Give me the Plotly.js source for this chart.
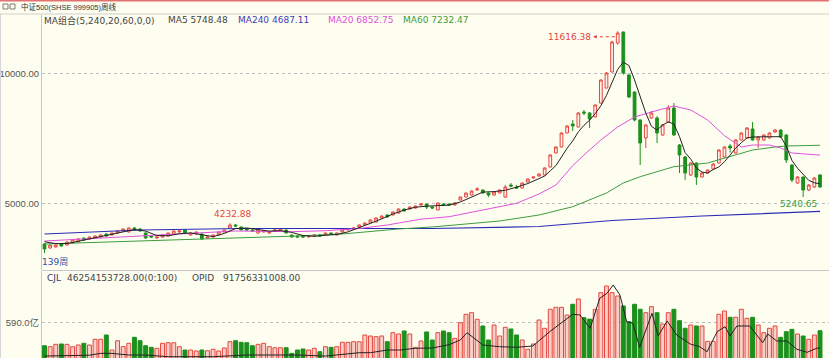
<!DOCTYPE html>
<html><head><meta charset="utf-8">
<script src="https://cdn.plot.ly/plotly-3.0.1.min.js"></script>
<style>html,body{margin:0;padding:0;background:#FEFEF0;}#chart{width:829px;height:358px;}</style>
</head><body><div id="chart"></div>
<script>
// ---- data ----
const weekOpen = [3435,3281,3320,3435,3396,3473,3512,3665,3627,3665,3704,3819,3781,3858,3935,3896,4050,4012,3858,3742,
3665,3704,3742,3819,3896,3973,3781,3819,3819,3665,3704,3781,3896,4050,4165,4089,4012,3973,3858,3896,
3858,3935,3973,3973,3781,3742,3742,3704,3742,3781,3781,3858,3781,3896,3973,4012,4089,4165,4242,4281,
4435,4550,4550,4627,4781,4781,4819,4935,4973,4858,4742,4973,4973,4935,5127,5242,5319,5512,5512,5396,
5319,5396,5242,5704,5627,5588,5819,5973,6050,6088,6396,6935,7165,7704,8050,7935,8511,8473,8319,8857,
9435,10050,11165,11588,9935,9281,8204,7512,8281,8281,7627,8127,8665,7242,6781,6088,6550,6011,6165,6319,
6550,6781,7204,6935,7435,7512,7858,7435,7435,7512,7742,7819,7627,6473,5781,6011,5512,5627,6088];
const weekHigh = [3473,3420,3420,3450,3530,3600,3650,3680,3720,3760,3800,3830,3870,3950,4030,4070,4090,4040,3880,3760,
3720,3800,3870,3950,3960,3990,3870,3910,3840,3720,3800,3910,3990,4232.88,4200,4100,4030,3990,3990,3950,
3910,3990,4030,3990,3800,3760,3760,3760,3800,3800,3870,3870,3870,3990,4030,4080,4180,4260,4380,4450,
4530,4570,4680,4800,4800,4880,4910,5010,4990,4880,5030,5000,4990,5030,5260,5410,5490,5620,5530,5410,
5450,5530,5700,5780,5700,5800,5950,6030,6150,6380,6880,7190,7730,8000,8204,8500,8588,8511,8800,9760,
10050,11250,11616.38,11600,10000,9300,8230,8040,8550,8350,8050,8781,8857,7280,6820,6580,6580,6190,6300,6540,
7080,7190,7280,7460,7730,7930,8127,7580,7650,7730,7850,7850,7650,6500,6050,6030,5740,6000,6120];
const weekLow = [3088,3260,3300,3340,3380,3460,3500,3570,3610,3650,3690,3720,3770,3840,3920,3880,3960,3920,3640,3680,
3640,3690,3730,3800,3880,3840,3770,3800,3600,3640,3690,3770,3880,4030,4100,3960,3950,3920,3840,3880,
3840,3920,3960,3840,3690,3680,3690,3690,3730,3730,3770,3800,3770,3880,3960,4000,4070,4150,4230,4270,
4420,4460,4540,4610,4690,4770,4800,4920,4780,4790,4730,4910,4920,4920,5110,5230,5300,5490,5380,5240,
5300,5380,5200,5620,5560,5570,5800,5950,6030,6070,6380,6920,7150,7690,7780,7920,8390,7896,8300,8840,
9420,10030,11100,9950,9050,8150,6473,7127,8250,7320,7600,8100,7600,6165,5896,6050,5704,5990,6140,6300,
6530,6760,6950,6910,7410,7490,7410,7127,7400,7490,7720,7530,6550,5819,5750,5240.65,5480,5600,5600];
const weekClose = [3242,3396,3396,3358,3512,3588,3627,3588,3704,3742,3781,3742,3858,3935,4012,4050,3973,3935,3665,3704,
3704,3781,3858,3935,3935,3858,3858,3896,3627,3704,3781,3896,3973,4165,4127,3973,3973,3935,3973,3935,
3896,3973,4012,3858,3704,3704,3704,3742,3781,3742,3858,3819,3858,3973,4012,4050,4165,4242,4358,4435,
4512,4473,4665,4781,4704,4858,4896,4973,4858,4819,5012,4935,4935,5012,5242,5396,5473,5550,5396,5319,
5435,5512,5627,5665,5588,5781,5935,6011,6127,6358,6858,7165,7704,7973,7973,8473,8473,8243,8781,9742,
10011,11204,11550,10011,9088,8204,7319,8011,8473,7704,8011,8665,7627,6858,6165,6550,6011,6165,6281,6511,
7050,7165,7127,7435,7704,7896,7435,7550,7627,7704,7819,7550,6665,5896,6011,5512,5704,5973,5627];
// weekly turnover, 亿
const weekVolume = [234,219,255,260,255,219,245,271,245,332,332,397,169,310,220,271,362,310,234,210,
195,271,280,280,219,169,169,154,169,158,180,154,200,295,310,286,280,234,255,271,
219,203,203,203,118,169,184,169,195,143,219,210,219,286,286,295,295,397,382,371,
382,295,432,412,458,412,210,306,443,321,432,458,432,347,584,712,736,636,534,321,
549,382,514,488,397,321,180,260,625,499,788,818,818,701,864,944,660,639,788,1040,
1142,1040,990,838,599,864,788,736,827,736,564,736,788,614,500,549,534,534,300,300,
712,762,666,666,788,651,666,549,432,499,534,362,447,483,412,382,332,397,462.54];
// moving-average lines, read at sample weeks
const ma5Week = [0,2,4,6,8,10,12,14,16,18,20,22,24,26,28,30,32,34,36,38,40,42,44,46,48,50,52,54,56,58,60,62,64,66,68,70,72,74,76,78,80,82,84,86,88,89,90,91,92,93,94,95,96,97,98,99,100,101,102,103,104,105,106,107,108,109,110,111,112,113,114,115,116,117,118,119,120,121,122,123,124,125,126,127,128,129,130,131,132,133,134,135,136,137,138];
const ma5Value = [3520,3450,3450,3540,3620,3700,3790,3900,3990,3930,3760,3750,3830,3860,3780,3720,3840,4030,4050,3990,3930,3950,3880,3760,3730,3770,3800,3900,4050,4230,4400,4590,4740,4850,4890,4900,4930,5050,5250,5430,5450,5500,5620,5760,5950,6050,6250,6450,6780,7120,7400,7750,8000,8200,8450,8750,9150,9650,10150,10430,10300,9742,9100,8473,7960,7819,8011,8130,8050,7561,6950,6700,6358,6200,6165,6300,6400,6600,6850,7127,7330,7512,7550,7561,7561,7561,7561,7561,7200,6650,6350,6100,5880,5790,5748.48];
const ma20Week = [0,8,16,24,34,44,50,56,61,67,72,78,84,88,91,93,94,96,99,102,105,108,111,112,115,118,121,124,126,129,131,133,138];
const ma20Value = [3550,3640,3715,3830,3935,3908,3946,4030,4165,4390,4485,4742,5000,5358,5704,6200,6450,6858,7435,7935,8319,8511,8704,8740,8588,8204,7600,7165,7242,7242,7127,6935,6852.75];
const ma60Week = [0,34,45,53,63,69,81,88,94,100,103,106,112,118,121,126,130,132,138];
const ma60Value = [3435,3650,3742,3819,4012,4089,4319,4550,4869,5396,5781,6023,6408,6550,6742,7050,7165,7204,7232.47];
const ma240Week = [0,17,35,69,88,101,117,138];
const ma240Value = [3820,3973,4030,4030,4108,4338,4512,4687.11];
const volLineWeek = [0,8,10,12,15,18,22,30,36,45,50,56,58,61,63.3,66,69,72,74,75.2,78,81,84,86.9,89.9,92.3,94,95.3,97.1,98.8,100.1,101.2,102.4,103.6,104.7,105.9,108.1,109.2,110.8,112.5,114.9,116.6,117.9,119.7,121.1,122,123.2,125.5,127.8,128.7,130.3,132.1,133.9,135.7,137.4,138];
const volLineValue = [77,90,118,118,93,93,67,67,93,93,77,128,128,169,169,195,199,250,321,432,245,219,210,230,447,610,712,701,499,955,1031,1157,1005,599,575,210,727,382,610,397,260,219,143,447,523,382,534,534,280,412,306,306,180,134,195,200];
const priceTicks = [5000, 10000];
const priceTickText = ['5000.00', '10000.00'];
const volTicks = [590];
const volTickText = ['590.0亿'];
const weeks = weekClose.map((_, i) => i);

// ---- styles ----
const RED = '#E5463E', RED_FILL = '#FFF2EE', RED_VOL_FILL = '#F9CFC7';
const GREEN = '#1C901C';
const FONT = 'DejaVu Sans, Noto Sans CJK SC, sans-serif';
const TICKFONT = 'Liberation Sans, Arial, Noto Sans CJK SC, sans-serif';
const W = 829, H = 358, ML = 42, MT = 14;
const PW = W - ML, PH = H - MT;
const px = x => (x - ML) / PW;         // pixel x -> paper
const py = y => (H - y) / PH;          // pixel y -> paper

const up = weekClose.map((c, i) => c >= weekOpen[i]);
const volFill = up.map(u => u ? RED_VOL_FILL : GREEN);
const volLine = up.map(u => u ? RED : GREEN);

const traces = [
  {type:'candlestick', x:weeks, open:weekOpen, high:weekHigh, low:weekLow, close:weekClose,
   xaxis:'x', yaxis:'y', whiskerwidth:0, hoverinfo:'none',
   increasing:{line:{color:RED,width:1}, fillcolor:RED_FILL},
   decreasing:{line:{color:GREEN,width:1}, fillcolor:GREEN}},
  {type:'scatter', mode:'lines', x:ma240Week, y:ma240Value, line:{color:'#2B2BB8', width:1.2}, hoverinfo:'none'},
  {type:'scatter', mode:'lines', x:ma60Week, y:ma60Value, line:{color:'#3E9B3E', width:1}, hoverinfo:'none'},
  {type:'scatter', mode:'lines', x:ma20Week, y:ma20Value, line:{color:'#E050DC', width:1}, hoverinfo:'none'},
  {type:'scatter', mode:'lines', x:ma5Week, y:ma5Value, line:{color:'#222222', width:1}, hoverinfo:'none'},
  {type:'bar', x:weeks, y:weekVolume, xaxis:'x', yaxis:'y2',
   marker:{color:volFill, line:{color:volLine, width:1}}, hoverinfo:'none'},
  {type:'scatter', mode:'lines', x:volLineWeek, y:volLineValue, xaxis:'x', yaxis:'y2',
   line:{color:'#222222', width:1}, hoverinfo:'none'}
];

const axisFont = {family:TICKFONT, size:9.5, color:'#555555'};
const layout = {
  width:W, height:H, margin:{l:ML, r:0, t:MT, b:0, pad:0},
  paper_bgcolor:'#FEFEF0', plot_bgcolor:'#FEFEF0', showlegend:false, hovermode:false, dragmode:false,
  bargap:0.3, boxgap:0.3,
  font:{family:FONT, size:9, color:'#333'},
  xaxis:{range:[-0.445, 139.6], showgrid:false, zeroline:false, showticklabels:false, showline:false,
         ticks:'', rangeslider:{visible:false}, anchor:'y2'},
  yaxis:{domain:[py(270), 1], range:[2434.8, 12280.6], tickvals:priceTicks, ticktext:priceTickText,
         showgrid:true, gridcolor:'#BDBDBD', griddash:'dot', gridwidth:1, zeroline:false,
         showline:true, linecolor:'#C6C6C6', ticks:'', tickfont:axisFont},
  yaxis2:{domain:[0, py(271)], range:[47.4, 1369.8], tickvals:volTicks, ticktext:volTickText,
         showgrid:true, gridcolor:'#BDBDBD', griddash:'dot', gridwidth:1, zeroline:false,
         showline:true, linecolor:'#C6C6C6', ticks:'', tickfont:axisFont},
  shapes:[
    {type:'line', xref:'paper', yref:'paper', x0:px(0), x1:1, y0:py(0.8), y1:py(0.8), line:{color:'#E27272', width:1.6}},
    {type:'line', xref:'paper', yref:'paper', x0:px(0), x1:1, y0:py(14), y1:py(14), line:{color:'#CFCFCF', width:1}},
    {type:'line', xref:'paper', yref:'paper', x0:0, x1:1, y0:py(270.5), y1:py(270.5), line:{color:'#C8C8C8', width:1}},
    {type:'line', xref:'paper', yref:'paper', x0:px(0.5), x1:px(0.5), y0:0, y1:1, line:{color:'#D6D6D6', width:1}},
    {type:'rect', xref:'paper', yref:'paper', x0:px(3), x1:px(8), y0:py(9), y1:py(4), line:{color:'#7A7A7A', width:1}},
    {type:'rect', xref:'paper', yref:'paper', x0:px(10), x1:px(15), y0:py(9), y1:py(4), line:{color:'#7A7A7A', width:1}},
    {type:'line', xref:'x', yref:'y', x0:97.75, x1:101.7, y0:11407, y1:11407, line:{color:RED, width:1, dash:'dot'}}
  ],
  annotations:[
    {xref:'paper', yref:'paper', x:px(19), y:py(6.5), xanchor:'left', yanchor:'middle', showarrow:false,
     text:'中证500(SHSE 999905)周线', font:{family:'Liberation Sans Narrow, Liberation Sans, Noto Sans CJK SC, sans-serif', size:7.5, color:'#333'}},
    {xref:'paper', yref:'paper', x:px(42), y:py(20), xanchor:'left', yanchor:'middle', showarrow:false,
     text:'MA组合(5,240,20,60,0,0)', font:{family:FONT, size:9, color:'#444'}},
    {xref:'paper', yref:'paper', x:px(166), y:py(20), xanchor:'left', yanchor:'middle', showarrow:false,
     text:'MA5 5748.48', font:{family:FONT, size:9, color:'#444'}},
    {xref:'paper', yref:'paper', x:px(236), y:py(20), xanchor:'left', yanchor:'middle', showarrow:false,
     text:'MA240 4687.11', font:{family:FONT, size:9, color:'#3B3BC0'}},
    {xref:'paper', yref:'paper', x:px(326), y:py(20), xanchor:'left', yanchor:'middle', showarrow:false,
     text:'MA20 6852.75', font:{family:FONT, size:9, color:'#E050DC'}},
    {xref:'paper', yref:'paper', x:px(401), y:py(20), xanchor:'left', yanchor:'middle', showarrow:false,
     text:'MA60 7232.47', font:{family:FONT, size:9, color:'#3E9B3E'}},
    {xref:'paper', yref:'paper', x:px(40), y:py(262), xanchor:'left', yanchor:'middle', showarrow:false,
     text:'139周', font:{family:FONT, size:9, color:'#2E4FA8'}},
    {xref:'paper', yref:'paper', x:px(45), y:py(278), xanchor:'left', yanchor:'middle', showarrow:false,
     text:'CJL', font:{family:FONT, size:9, color:'#333366'}},
    {xref:'paper', yref:'paper', x:px(65), y:py(278), xanchor:'left', yanchor:'middle', showarrow:false,
     text:'46254153728.00(0:100)', font:{family:FONT, size:9, color:'#444'}},
    {xref:'paper', yref:'paper', x:px(190), y:py(278), xanchor:'left', yanchor:'middle', showarrow:false,
     text:'OPID', font:{family:FONT, size:9, color:'#444'}},
    {xref:'paper', yref:'paper', x:px(221), y:py(278), xanchor:'left', yanchor:'middle', showarrow:false,
     text:'91756331008.00', font:{family:FONT, size:9, color:'#444'}},
    {xref:'x', yref:'y', x:33.5, y:4589, xanchor:'center', yanchor:'middle', showarrow:false,
     text:'4232.88', font:{family:FONT, size:9, color:RED}},
    {xref:'x', yref:'y', x:97.6, y:11407, xanchor:'right', yanchor:'middle', showarrow:false,
     text:'11616.38', font:{family:FONT, size:9, color:RED}},
    {xref:'x', yref:'y', x:97.65, y:11407, ax:5, ay:0, showarrow:true, arrowhead:2, arrowsize:0.7,
     arrowwidth:1, arrowcolor:RED, text:''},
    {xref:'x', yref:'y', x:137.8, y:4961, xanchor:'right', yanchor:'middle', showarrow:false,
     text:'5240.65', font:{family:FONT, size:9, color:'#3E9B3E'}}
  ]
};

Plotly.newPlot('chart', traces, layout, {staticPlot:true, displayModeBar:false});
</script>
</body></html>
